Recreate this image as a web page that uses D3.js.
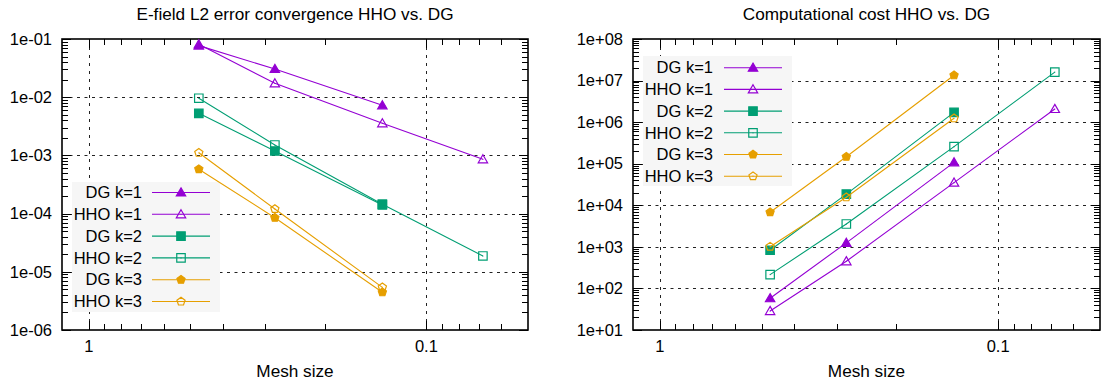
<!DOCTYPE html>
<html>
<head>
<meta charset="utf-8">
<script src="https://cdn.jsdelivr.net/npm/d3@7"></script>
<style>
html,body{margin:0;padding:0;background:#fff;}
svg{display:block;font-family:"Liberation Sans",Arial,Helvetica,sans-serif;}
</style>
</head>
<body>
<svg id="chart" width="1106" height="387"></svg>
<script>
// ---------- data ----------
const meshSize = [0.472, 0.281, 0.135, 0.068];
const seriesNames = ["DG k=1", "HHO k=1", "DG k=2", "HHO k=2", "DG k=3", "HHO k=3"];
const seriesColors = ["#9400d3", "#9400d3", "#009e73", "#009e73", "#e69f00", "#e69f00"];
const seriesMarkers = ["triangleFilled", "triangleOpen", "squareFilled", "squareOpen", "pentagonFilled", "pentagonOpen"];

// E-field L2 error
const errDG1  = [0.077, 0.0305, 0.00726];
const errHHO1 = [0.081, 0.0173, 0.00356, 0.000857];
const errDG2  = [0.00528, 0.00119, 0.000141];
const errHHO2 = [0.0096, 0.00151, 0.000145, 0.0000187];
const errDG3  = [0.00058, 0.000085, 0.00000445];
const errHHO3 = [0.00111, 0.00012, 0.0000054];

// Computational cost
const costDG1  = [58, 1250, 108000];
const costHHO1 = [28.6, 450, 35000, 2070000];
const costDG2  = [830, 18600, 1720000];
const costHHO2 = [215, 3550, 257000, 16000000];
const costDG3  = [6800, 147000, 13400000];
const costHHO3 = [1010, 15600, 1240000];

const xTickValues = [1, 0.1];
const xTickLabels = ["1", "0.1"];
const errTickValues = [1e-6, 1e-5, 1e-4, 1e-3, 1e-2, 1e-1];
const errTickLabels = ["1e-06", "1e-05", "1e-04", "1e-03", "1e-02", "1e-01"];
const costTickValues = [1e1, 1e2, 1e3, 1e4, 1e5, 1e6, 1e7, 1e8];
const costTickLabels = ["1e+01", "1e+02", "1e+03", "1e+04", "1e+05", "1e+06", "1e+07", "1e+08"];

// ---------- drawing ----------
const svg = d3.select("#chart");
const FS = 16.5;
const FS_TITLE = 17.2;

function markerPath(type, size) {
  const sym = {
    triangleFilled: d3.symbolTriangle, triangleOpen: d3.symbolTriangle,
    squareFilled: d3.symbolSquare, squareOpen: d3.symbolSquare,
    pentagonFilled: null, pentagonOpen: null
  }[type];
  if (sym) return d3.symbol().type(sym).size(size)();
  const r = Math.sqrt(size) * 0.62;
  const pts = d3.range(5).map(i => {
    const a = -Math.PI / 2 + i * 2 * Math.PI / 5;
    return [r * Math.cos(a), r * Math.sin(a)];
  });
  return "M" + pts.map(p => p.join(",")).join("L") + "Z";
}
function markerSize(type) {
  if (type.startsWith("triangle")) return 38;
  if (type.startsWith("square")) return 72;
  return 48;
}
function drawMarker(g, type, color, x, y) {
  const filled = type.endsWith("Filled");
  const yOff = type.startsWith("triangle") ? 0.8 : 0;
  g.append("path")
    .attr("d", markerPath(type, markerSize(type)))
    .attr("transform", `translate(${x},${y + yOff})`)
    .attr("fill", filled ? color : "none")
    .attr("stroke", color)
    .attr("stroke-width", 1.2);
  if (!filled) {
    g.append("circle").attr("cx", x).attr("cy", y).attr("r", 0.6).attr("fill", color);
  }
}

function drawPanel(opts) {
  const {left, right, top, bottom, title, yDomain, yTicks, yLabels, series, legend} = opts;
  const g = svg.append("g");
  const x = d3.scaleLog().domain([1.2, 0.05]).range([left, right]);
  const y = d3.scaleLog().domain(yDomain).range([bottom, top]);

  // grid
  xTickValues.forEach(v => {
    g.append("line").attr("x1", Math.round(x(v)) + 0.5).attr("x2", Math.round(x(v)) + 0.5)
      .attr("y1", top).attr("y2", bottom)
      .attr("stroke", "#222").attr("stroke-width", 1).attr("stroke-dasharray", "3,5");
  });
  yTicks.forEach(v => {
    if (v === yDomain[0] || v === yDomain[1]) return;
    g.append("line").attr("x1", left).attr("x2", right)
      .attr("y1", Math.round(y(v)) + 0.5).attr("y2", Math.round(y(v)) + 0.5)
      .attr("stroke", "#222").attr("stroke-width", 1).attr("stroke-dasharray", "3,4.5");
  });

  // legend box
  const lg = legend;
  g.append("rect").attr("x", lg.x0).attr("y", lg.y0).attr("width", lg.x1 - lg.x0).attr("height", lg.y1 - lg.y0)
    .attr("fill", "#f6f6f6");

  // ticks
  const tk = g.append("g").attr("stroke", "#000").attr("stroke-width", 1);
  const xMinor = [0.9, 0.8, 0.7, 0.6, 0.5, 0.4, 0.3, 0.2, 0.09, 0.08, 0.07, 0.06];
  xTickValues.forEach(v => {
    const xv = Math.round(x(v)) + 0.5;
    tk.append("line").attr("x1", xv).attr("x2", xv).attr("y1", bottom).attr("y2", bottom - 9);
    tk.append("line").attr("x1", xv).attr("x2", xv).attr("y1", top).attr("y2", top + 9);
  });
  xMinor.forEach(v => {
    const xv = Math.round(x(v)) + 0.5;
    tk.append("line").attr("x1", xv).attr("x2", xv).attr("y1", bottom).attr("y2", bottom - 6);
    tk.append("line").attr("x1", xv).attr("x2", xv).attr("y1", top).attr("y2", top + 6);
  });
  yTicks.forEach((v, i) => {
    const yv = Math.round(y(v)) + 0.5;
    tk.append("line").attr("x1", left).attr("x2", left + 9).attr("y1", yv).attr("y2", yv);
    tk.append("line").attr("x1", right).attr("x2", right - 9).attr("y1", yv).attr("y2", yv);
    if (i < yTicks.length - 1) {
      for (let m = 2; m <= 9; m++) {
        const ym = Math.round(y(v * m)) + 0.5;
        tk.append("line").attr("x1", left).attr("x2", left + 6).attr("y1", ym).attr("y2", ym);
        tk.append("line").attr("x1", right).attr("x2", right - 6).attr("y1", ym).attr("y2", ym);
      }
    }
  });

  // frame
  g.append("rect").attr("x", left).attr("y", top).attr("width", right - left).attr("height", bottom - top)
    .attr("fill", "none").attr("stroke", "#000").attr("stroke-width", 1.6);

  // tick labels
  xTickValues.forEach((v, i) => {
    g.append("text").attr("x", x(v)).attr("y", bottom + 22).attr("text-anchor", "middle")
      .attr("font-size", FS).text(xTickLabels[i]);
  });
  yTicks.forEach((v, i) => {
    g.append("text").attr("x", left - 10).attr("y", y(v)).attr("dy", "0.35em").attr("text-anchor", "end")
      .attr("font-size", FS).text(yLabels[i]);
  });

  // titles
  g.append("text").attr("x", (left + right) / 2).attr("y", 20).attr("text-anchor", "middle")
    .attr("font-size", FS_TITLE).text(title);
  g.append("text").attr("x", (left + right) / 2).attr("y", 377).attr("text-anchor", "middle")
    .attr("font-size", FS_TITLE).text("Mesh size");

  // data
  const line = d3.line().x(d => x(d[0])).y(d => y(d[1]));
  series.forEach((vals, i) => {
    const pts = vals.map((v, j) => [meshSize[j], v]);
    g.append("path").attr("d", line(pts)).attr("fill", "none")
      .attr("stroke", seriesColors[i]).attr("stroke-width", 1.1);
    pts.forEach(p => drawMarker(g, seriesMarkers[i], seriesColors[i], x(p[0]), y(p[1])));
  });

  // legend entries
  seriesNames.forEach((name, i) => {
    const yy = lg.rowY + i * lg.step;
    g.append("text").attr("x", lg.textX).attr("y", yy).attr("dy", "0.35em").attr("text-anchor", "end")
      .attr("font-size", FS).text(name);
    g.append("line").attr("x1", lg.lineX0).attr("x2", lg.lineX1).attr("y1", yy).attr("y2", yy)
      .attr("stroke", seriesColors[i]).attr("stroke-width", 1.1);
    drawMarker(g, seriesMarkers[i], seriesColors[i], (lg.lineX0 + lg.lineX1) / 2, yy);
  });
}

drawPanel({
  left: 62, right: 528, top: 39, bottom: 330,
  title: "E-field L2 error convergence HHO vs. DG",
  yDomain: [1e-6, 1e-1], yTicks: errTickValues, yLabels: errTickLabels,
  series: [errDG1, errHHO1, errDG2, errHHO2, errDG3, errHHO3],
  legend: {x0: 72, x1: 220, y0: 182, y1: 312, rowY: 192.5, step: 21.8, textX: 142, lineX0: 152, lineX1: 210}
});

drawPanel({
  left: 633, right: 1100, top: 39, bottom: 330,
  title: "Computational cost HHO vs. DG",
  yDomain: [1e1, 1e8], yTicks: costTickValues, yLabels: costTickLabels,
  series: [costDG1, costHHO1, costDG2, costHHO2, costDG3, costHHO3],
  legend: {x0: 643, x1: 792, y0: 56, y1: 186, rowY: 67.7, step: 21.7, textX: 713, lineX0: 724, lineX1: 782}
});
</script>
</body>
</html>
